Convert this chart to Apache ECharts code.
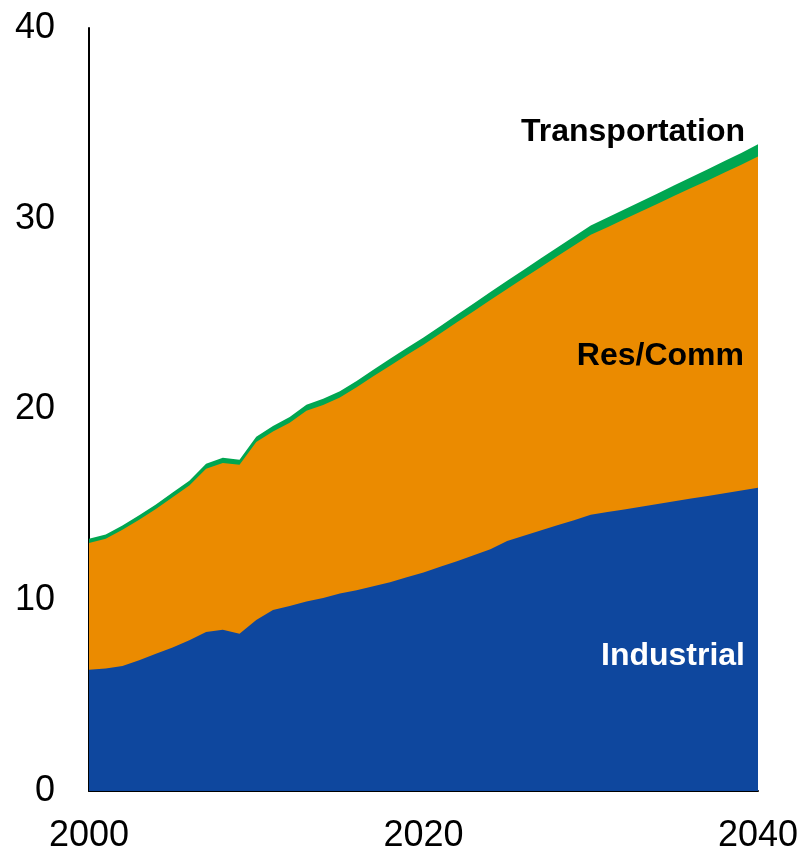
<!DOCTYPE html>
<html>
<head>
<meta charset="utf-8">
<script src="https://cdn.jsdelivr.net/npm/echarts@6/dist/echarts.min.js"></script>
<style>
html,body{margin:0;padding:0;background:#fff;}
#chart{width:804px;height:854px;}
</style>
</head>
<body>
<div id="chart"></div>
<script>
var years = [2000,2001,2002,2003,2004,2005,2006,2007,2008,2009,2010,2011,2012,2013,2014,2015,2016,2017,2018,2019,2020,2021,2022,2023,2024,2025,2026,2027,2028,2029,2030,2031,2032,2033,2034,2035,2036,2037,2038,2039,2040];
var industrial = [6.36,6.42,6.55,6.85,7.2,7.52,7.9,8.34,8.45,8.24,8.97,9.49,9.7,9.93,10.12,10.35,10.53,10.74,10.95,11.21,11.45,11.76,12.05,12.36,12.67,13.1,13.38,13.66,13.93,14.2,14.48,14.62,14.76,14.9,15.05,15.19,15.33,15.47,15.61,15.76,15.9];
var resComm = [6.64,6.81,7.14,7.37,7.58,7.88,8.12,8.56,8.75,8.86,9.32,9.36,9.61,10.01,10.12,10.28,10.63,11.0,11.35,11.65,11.95,12.22,12.52,12.79,13.07,13.22,13.51,13.8,14.1,14.4,14.68,14.94,15.22,15.48,15.74,16.01,16.28,16.54,16.82,17.07,17.36];
var transportation = [0.22,0.22,0.23,0.23,0.24,0.25,0.25,0.26,0.27,0.27,0.28,0.29,0.3,0.31,0.32,0.33,0.34,0.35,0.36,0.37,0.38,0.39,0.4,0.41,0.42,0.43,0.44,0.45,0.46,0.47,0.48,0.5,0.51,0.53,0.54,0.56,0.57,0.59,0.6,0.62,0.64];
var seriesNames = ['Industrial','Res/Comm','Transportation'];
var xTicks = [2000,2020,2040];
var yTicks = [0,10,20,30,40];

// cumulative (stacked) tops, computed from the component arrays
var layers = [industrial, resComm, transportation];
var cumulative = [];
layers.forEach(function(vals, k){
  cumulative.push(vals.map(function(v, i){ return k === 0 ? v : +(cumulative[k-1][i] + v).toFixed(3); }));
});
function pairs(vals){ return years.map(function(y,i){ return [y, vals[i]]; }); }
var colors = ['#0E479E','#EB8B00','#00A651'];
var FONT = 'Liberation Sans, Arial, sans-serif';

function areaSeries(name, vals, color, z){
  return {
    name: name, type: 'line', data: pairs(vals),
    symbol: 'none', smooth: false,
    lineStyle: {width: 0, color: color},
    areaStyle: {color: color, opacity: 1, origin: 'start'},
    itemStyle: {color: color},
    z: z
  };
}

var chart = echarts.init(document.getElementById('chart'));
chart.setOption({
  animation: false,
  backgroundColor: '#ffffff',
  grid: {left: 89, right: 46, top: 28, bottom: 59, containLabel: false},
  xAxis: {
    type: 'value', min: xTicks[0], max: xTicks[xTicks.length-1], interval: 20,
    axisLine: {show: true, onZero: false, lineStyle: {color: '#000', width: 2}},
    axisTick: {show: false},
    splitLine: {show: false},
    axisLabel: {fontSize: 36, color: '#000', fontFamily: FONT, margin: 27,
      formatter: function(v){ return xTicks.indexOf(v) >= 0 ? String(v) : ''; }}
  },
  yAxis: {
    type: 'value', min: yTicks[0], max: yTicks[yTicks.length-1], interval: 10,
    axisLine: {show: true, lineStyle: {color: '#000', width: 2}},
    axisTick: {show: false},
    splitLine: {show: false},
    axisLabel: {fontSize: 36, color: '#000', fontFamily: FONT, margin: 34}
  },
  series: [
    areaSeries(seriesNames[2], cumulative[2], colors[2], 2),
    areaSeries(seriesNames[1], cumulative[1], colors[1], 3),
    areaSeries(seriesNames[0], cumulative[0], colors[0], 4)
  ],
  graphic: [
    {type: 'text', right: 59, top: 116, z: 10,
      style: {text: seriesNames[2], font: 'bold 32px ' + FONT, fill: '#000'}},
    {type: 'text', right: 60, top: 340, z: 10,
      style: {text: seriesNames[1], font: 'bold 32px ' + FONT, fill: '#000'}},
    {type: 'text', right: 59, top: 640, z: 10,
      style: {text: seriesNames[0], font: 'bold 32px ' + FONT, fill: '#fff'}}
  ]
});
</script>
</body>
</html>
